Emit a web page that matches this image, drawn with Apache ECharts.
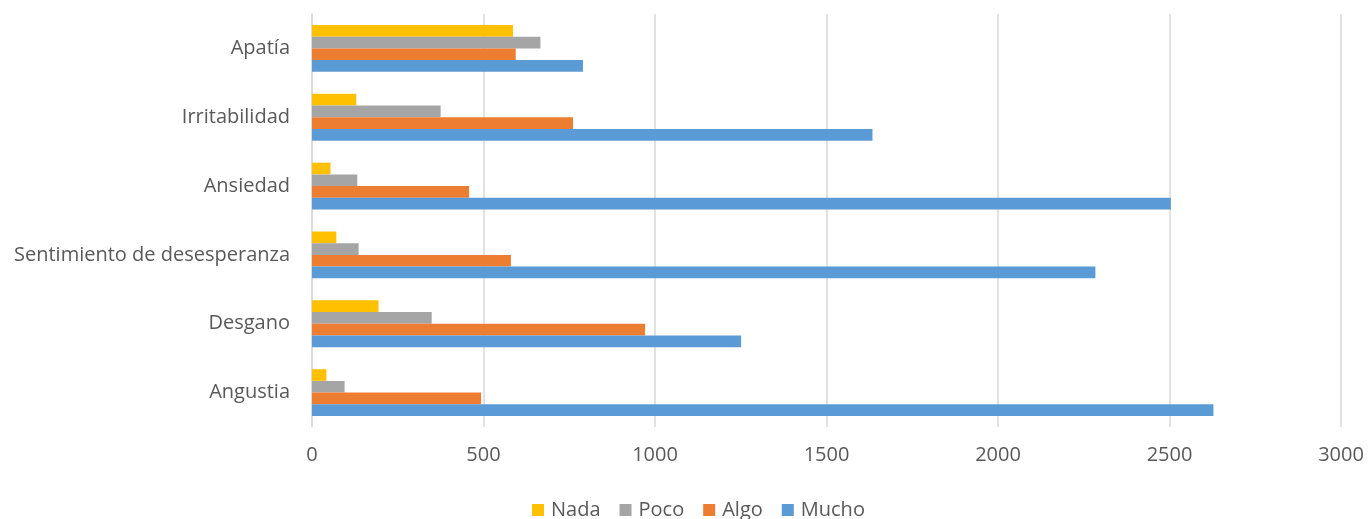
<!DOCTYPE html>
<html>
<head>
<meta charset="utf-8">
<script src="https://cdn.jsdelivr.net/npm/echarts@6/dist/echarts.min.js"></script>
<style>
  html, body { margin: 0; padding: 0; background: #fff; }
  #chart { width: 1369px; height: 519px; }
</style>
</head>
<body>
<div id="chart"></div>
<script>
// categorias (de abajo hacia arriba)
var categorias = ['Angustia', 'Desgano', 'Sentimiento de desesperanza', 'Ansiedad', 'Irritabilidad', 'Apatía']
var nada = [42, 194, 71, 54, 129, 586]
var poco = [95, 349, 136, 132, 375, 666]
var algo = [493, 971, 580, 458, 761, 594]
var mucho = [2628, 1251, 2284, 2504, 1634, 790]
var xTicks = [0, 500, 1000, 1500, 2000, 2500, 3000]

var fuente = '"Open Sans", "Noto Sans", sans-serif'

var Chart = echarts.init(document.getElementById('chart'))
var option = {
  animation: false,
  textStyle: { fontFamily: fuente },
  legend: {
    data: ['Nada', 'Poco', 'Algo', 'Mucho'],
    left: 527,
    top: 495,
    icon: 'rect',
    itemWidth: 12,
    itemHeight: 12,
    itemGap: 19,
    textStyle: { color: '#595959', fontSize: 20, fontFamily: fuente, padding: [0, 0, 0, 2] }
  },
  grid: {
    left: 312,
    right: 28,
    top: 14,
    bottom: 92,
    containLabel: false
  },
  xAxis: {
    type: 'value',
    min: xTicks[0],
    max: xTicks[xTicks.length - 1],
    interval: 500,
    axisLine: { show: false },
    axisTick: { show: false },
    axisLabel: {
      color: '#595959', fontSize: 20, margin: 18, fontFamily: fuente,
      formatter: function (v) { return String(v) }
    },
    splitLine: { show: true, lineStyle: { color: '#d9d9d9', width: 1.5 } }
  },
  yAxis: {
    type: 'category',
    data: categorias,
    axisLine: { show: true, lineStyle: { color: '#d9d9d9', width: 1.5 } },
    axisTick: { show: false },
    axisLabel: { color: '#595959', fontSize: 20, margin: 22, fontFamily: fuente }
  },
  series: [
    { name: 'Nada', type: 'bar', data: nada, barGap: '0%', barCategoryGap: '32%', itemStyle: { color: '#FFC000' } },
    { name: 'Poco', type: 'bar', data: poco, barGap: '0%', barCategoryGap: '32%', itemStyle: { color: '#A5A5A5' } },
    { name: 'Algo', type: 'bar', data: algo, barGap: '0%', barCategoryGap: '32%', itemStyle: { color: '#ED7D31' } },
    { name: 'Mucho', type: 'bar', data: mucho, barGap: '0%', barCategoryGap: '32%', itemStyle: { color: '#5B9BD5' } }
  ]
}
Chart.setOption(option)
</script>
</body>
</html>
